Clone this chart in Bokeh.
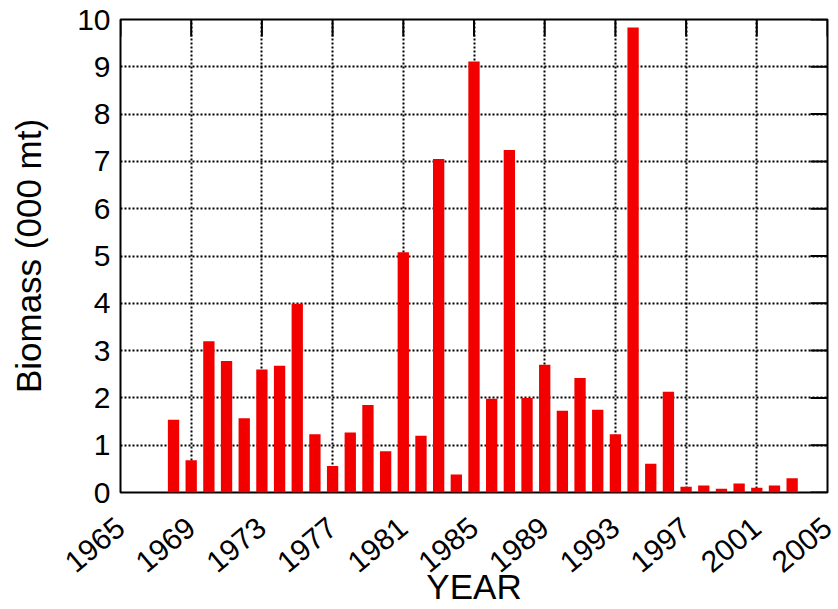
import math
from bokeh.plotting import figure
from bokeh.models import FixedTicker, ColumnDataSource
from bokeh.embed import file_html
from bokeh.resources import INLINE

# Annual biomass estimates (thousand metric tons)
years = list(range(1968, 2004))
biomass = [1.54, 0.68, 3.20, 2.78, 1.57, 2.60, 2.68, 3.99, 1.23, 0.56,
           1.27, 1.85, 0.87, 5.08, 1.20, 7.05, 0.38, 9.11, 1.98, 7.24,
           2.00, 2.70, 1.73, 2.42, 1.75, 1.23, 9.83, 0.61, 2.13, 0.12,
           0.15, 0.08, 0.19, 0.10, 0.15, 0.30]

x_ticks = list(range(1965, 2006, 4))
y_ticks = list(range(0, 11))

X_MIN, X_MAX = 1965, 2005
Y_MIN, Y_MAX = 0, 10

FONT = "Liberation Sans"

src = ColumnDataSource(data=dict(year=years, biomass=biomass))

p = figure(width=838, height=609, x_range=(X_MIN, X_MAX), y_range=(Y_MIN, Y_MAX),
           output_backend="svg", toolbar_location=None,
           min_border_left=120, min_border_right=11,
           min_border_top=19, min_border_bottom=117,
           x_axis_label="YEAR", y_axis_label="Biomass (000 mt)")

p.vbar(x="year", top="biomass", width=0.64, source=src,
       fill_color="#f20000", line_color=None)

p.outline_line_color = "black"
p.outline_line_width = 2
p.outline_line_alpha = 1

for ax, ticks in ((p.xaxis[0], x_ticks), (p.yaxis[0], y_ticks)):
    ax.ticker = FixedTicker(ticks=ticks)
    ax.major_tick_in = 0
    ax.major_tick_out = 0
    ax.minor_tick_line_color = None
    ax.axis_line_color = None
    ax.major_label_text_font = FONT
    ax.major_label_text_font_size = "30px"
    ax.major_label_text_color = "black"
    ax.axis_label_text_font = FONT
    ax.axis_label_text_font_size = "35px"
    ax.axis_label_text_font_style = "normal"
    ax.axis_label_text_color = "black"

p.xaxis.major_label_orientation = math.radians(40)
p.xaxis.major_label_standoff = 31
p.xaxis.axis_label_standoff = -18
p.yaxis.major_label_standoff = 10
p.yaxis.axis_label_standoff = 26

for g, ticks in ((p.xgrid[0], x_ticks), (p.ygrid[0], y_ticks)):
    g.ticker = FixedTicker(ticks=ticks)
    g.grid_line_color = "black"
    g.grid_line_width = 2
    g.grid_line_dash = "2 2"
    g.grid_line_alpha = 1

# inward tick marks along the top and right edges of the frame
p.ray(x=x_ticks, y=[Y_MAX] * len(x_ticks), length=17, length_units="screen",
      angle=-math.pi / 2, line_color="black", line_width=2)
p.ray(x=[X_MAX] * len(y_ticks), y=y_ticks, length=17, length_units="screen",
      angle=math.pi, line_color="black", line_width=2)

open("out.html", "w").write(file_html(p, INLINE))
